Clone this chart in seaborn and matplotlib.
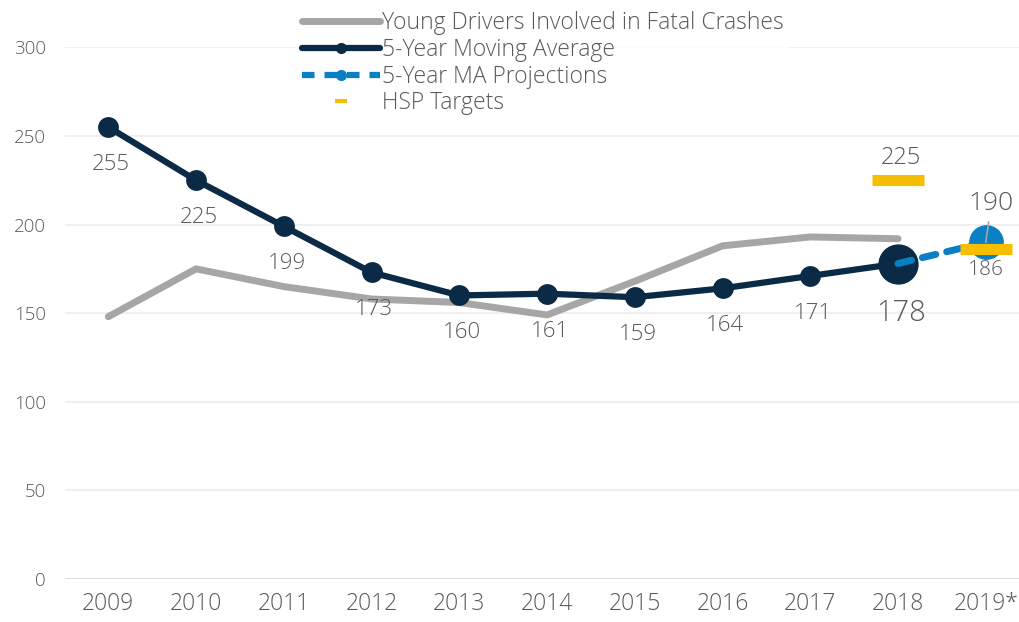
import matplotlib
matplotlib.use("Agg")
import matplotlib.pyplot as plt
from matplotlib.lines import Line2D
import seaborn as sns
import pandas as pd

# data
years = ["2009", "2010", "2011", "2012", "2013", "2014", "2015", "2016", "2017", "2018", "2019*"]
young_drivers = [148, 175, 165, 158, 156, 149, 168, 188, 193, 192]
moving_avg = [255, 225, 199, 173, 160, 161, 159, 164, 171, 178]
projection = [178, 190]
proj_years = ["2018", "2019*"]
targets = [225, 186]
target_years = ["2018", "2019*"]

xpos = {y: i for i, y in enumerate(years)}
df = pd.DataFrame({
    "x": [xpos[y] for y in years[:10]],
    "young": young_drivers,
    "ma": moving_avg,
})
proj_df = pd.DataFrame({"x": [xpos[y] for y in proj_years], "v": projection})
tgt_df = pd.DataFrame({"x": [xpos[y] for y in target_years], "v": targets})

sns.set_style("white")
plt.rcParams["font.family"] = ["Open Sans", "DejaVu Sans"]
plt.rcParams["font.weight"] = "light"

gray = "#a6a6a6"
navy = "#0b2a45"
blue = "#0a80c4"
yellow = "#f7bd00"
txt = "#595959"

fig = plt.figure(figsize=(10.2, 6.22), dpi=100)
ax = fig.add_axes([0.064, 0.069, 0.936, 0.855])

sns.lineplot(data=df, x="x", y="young", ax=ax, color=gray, lw=5, zorder=2,
             solid_capstyle="round")
sns.lineplot(data=df, x="x", y="ma", ax=ax, color=navy, lw=4.5, zorder=3,
             marker="o", markersize=15, markeredgewidth=0)
# bigger marker for latest year
ax.plot(df["x"].iloc[-1], df["ma"].iloc[-1], "o", color=navy, ms=28, zorder=3)
sns.lineplot(data=proj_df, x="x", y="v", ax=ax, color=blue, lw=5, zorder=4,
             dashes=False, linestyle=(0, (2, 1.6)), dash_capstyle="round")
ax.plot(proj_df["x"].iloc[-1], proj_df["v"].iloc[-1], "o", color=blue, ms=24,
        zorder=4)
ax.plot(tgt_df["x"], tgt_df["v"], linestyle="none", marker="_", color=yellow,
        ms=37, mew=8, zorder=6)

# data labels
for x, v in zip(df["x"][:-1], df["ma"][:-1]):
    ax.annotate(str(v), (x, v), xytext=(2, -27), textcoords="offset points",
                ha="center", va="center", fontsize=16, color=txt)
ax.annotate(str(moving_avg[-1]), (df["x"].iloc[-1], moving_avg[-1]),
            xytext=(2, -36), textcoords="offset points", ha="center",
            va="center", fontsize=21, color=txt)
ax.annotate(str(targets[0]), (tgt_df["x"][0], targets[0]), xytext=(2, 16),
            textcoords="offset points", ha="center", va="center",
            fontsize=17, color=txt)
ax.annotate(str(projection[-1]), (proj_df["x"].iloc[-1], projection[-1]),
            xytext=(4, 28), textcoords="offset points", ha="center",
            va="center", fontsize=19, color=txt, zorder=5,
            arrowprops=dict(arrowstyle="-", color=gray, lw=1.2, shrinkA=2,
                            shrinkB=0))
ax.annotate(str(targets[1]), (tgt_df["x"].iloc[-1], targets[1]),
            xytext=(0, -15), textcoords="offset points", ha="center",
            va="center", fontsize=15, color=txt)

ax.set_xlim(-0.49, 10.39)
ax.set_ylim(0, 300)
ax.set_xticks(range(len(years)))
ax.set_xticklabels(years)
ax.set_yticks(range(0, 301, 50))
ax.tick_params(axis="x", labelsize=16.5, labelcolor=txt, length=0, pad=9)
ax.tick_params(axis="y", labelsize=13.5, labelcolor=txt, length=0, pad=14)
ax.set_xlabel("")
ax.set_ylabel("")
ax.grid(axis="y", color="#ececec", lw=1.2)
ax.set_axisbelow(True)
sns.despine(ax=ax, left=True, bottom=True)
ax.axhline(0, color="#d9d9d9", lw=1.2, zorder=1)

handles = [
    Line2D([], [], color=gray, lw=5),
    Line2D([], [], color=navy, lw=4.5, marker="o", ms=7),
    Line2D([], [], color=blue, lw=4.5, linestyle=(0, (2, 1.6)), marker="o",
           ms=7),
    Line2D([], [], color=yellow, lw=0, marker="_", ms=9, mew=3),
]
labels = ["Young Drivers Involved in Fatal Crashes", "5-Year Moving Average",
          "5-Year MA Projections", "HSP Targets"]
leg = fig.legend(handles, labels, loc="upper left", bbox_to_anchor=(0.28, 1.008),
                 frameon=True, fontsize=16.5, labelcolor=txt, handlelength=3.4,
                 handletextpad=0.1, labelspacing=0.12, borderpad=0.2)
leg.get_frame().set_facecolor("white")
leg.get_frame().set_edgecolor("white")

fig.savefig("out.png", dpi=100)
